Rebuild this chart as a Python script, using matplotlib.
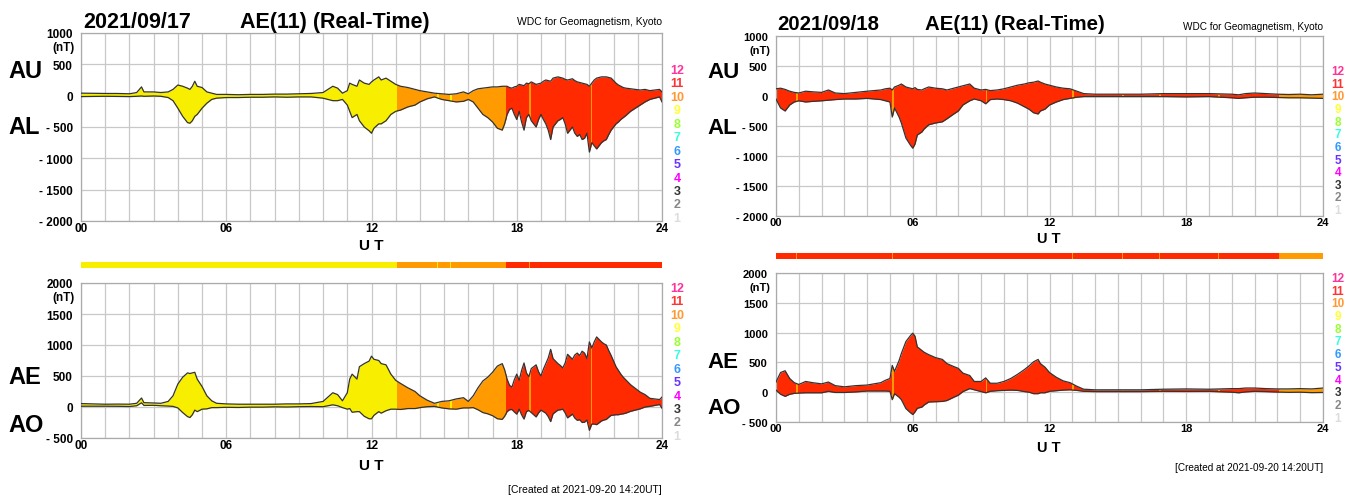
import numpy as np
import matplotlib
matplotlib.use("Agg")
import matplotlib.pyplot as plt
from matplotlib.patches import Rectangle

plt.rcParams['font.family'] = ['Liberation Sans', 'DejaVu Sans']

W, H = 1356, 502

# ---------------- data: 2021/09/17 ----------------
d1_t = [0.0, 0.5, 1.0, 1.5, 2.0, 2.3, 2.5, 2.6, 3.0, 3.3, 3.6, 3.8, 4.0, 4.2, 4.4, 4.5,
        4.6, 4.7, 4.8, 5.0, 5.2, 5.4, 5.6, 6.0, 6.5, 7.0, 7.5, 8.0, 8.5, 9.0, 9.5, 10.0,
        10.2, 10.4, 10.6, 10.8, 11.0, 11.1, 11.2, 11.4, 11.5, 11.7, 11.9, 12.0, 12.1, 12.3,
        12.4, 12.6, 12.8, 13.0, 13.2, 13.5, 13.8, 14.0, 14.3, 14.6, 14.9, 15.2, 15.5, 15.8,
        16.0, 16.2, 16.4, 16.6, 16.8, 17.0, 17.2, 17.4,
        17.5, 17.6, 17.7, 17.8, 17.9, 18.0, 18.1, 18.2, 18.3, 18.4, 18.5, 18.6, 18.7, 18.8,
        18.9, 19.0, 19.1, 19.2, 19.3, 19.4, 19.5, 19.6, 19.7, 19.8, 19.9, 20.0, 20.1, 20.2,
        20.3, 20.4, 20.5, 20.6, 20.7, 20.8, 20.9, 21.0, 21.1, 21.2, 21.3, 21.4, 21.5, 21.6,
        21.7, 21.8, 21.9, 22.0, 22.1, 22.2, 22.3, 22.4, 22.5,
        22.7, 22.9, 23.1, 23.3, 23.5, 23.7, 23.9, 24.0]
d1_au = [40, 38, 35, 35, 30, 50, 140, 60, 60, 50, 60, 100, 170, 150, 120, 100,
         150, 230, 150, 130, 60, 40, 20, 20, 15, 20, 20, 25, 25, 30, 35, 50,
         100, 150, 120, 40, 80, 200, 180, 150, 250, 200, 180, 220, 250, 300,
         250, 280, 230, 180, 150, 130, 100, 80, 60, 40, 30, 20, 30, 60,
         30, 80, 110, 120, 130, 140, 140, 150,
         150, 150, 130, 120, 140, 150, 180, 170, 160, 200, 190, 220, 200, 180,
         190, 200, 230, 250, 240, 230, 280, 290, 300, 290, 280, 260, 250, 260,
         270, 240, 220, 210, 200, 190, 180, 150, 200, 250, 280, 290, 300, 300,
         300, 290, 280, 240, 200, 170, 150, 130, 120,
         110, 100, 90, 100, 80, 90, 100, 60]
d1_al = [-15, -12, -10, -12, -15, -10, -5, -10, -5, -10, -30, -80, -200, -330, -430, -440,
         -400, -330, -300, -200, -120, -60, -40, -30, -30, -25, -25, -20, -25, -20, -20, -40,
         -60, -80, -80, -60, -150, -250, -350, -300, -400, -500, -560, -600, -520, -450,
         -450, -400, -300, -250, -230, -180, -150, -100, -50, -20, -60, -80, -100, -90,
         -60, -100, -200, -300, -350, -420, -520, -550,
         -450, -300, -220, -200, -300, -380, -250, -420, -550, -350, -300, -400, -450, -500,
         -380, -300, -380, -450, -550, -700, -500, -450, -400, -380, -350, -450, -600, -550,
         -500, -600, -650, -620, -700, -680, -600, -900, -750, -800, -850, -800, -750, -720,
         -700, -620, -550, -500, -450, -420, -380, -350, -320,
         -250, -200, -150, -100, -60, -40, -20, -100]
# number of contributing stations: (start h, end h, count)
d1_stations = [(0.0, 13.05, 9), (13.05, 17.55, 10), (17.55, 24.0, 11),
               (14.7, 14.73, 9), (15.25, 15.28, 9), (18.5, 18.53, 10), (21.05, 21.08, 10)]

# ---------------- data: 2021/09/18 ----------------
d2_t = [0.0, 0.2, 0.4, 0.6, 0.8, 1.0, 1.3, 1.6, 2.0, 2.3, 2.6, 3.0, 3.5, 4.0, 4.3, 4.6,
        4.8, 5.0, 5.1, 5.2, 5.4, 5.5, 5.7, 5.9, 6.0, 6.1, 6.2, 6.4, 6.5, 6.7, 7.0, 7.3,
        7.5, 7.8, 8.0, 8.2, 8.5, 8.7, 9.0, 9.2, 9.4, 9.7, 10.0, 10.3, 10.6, 10.9, 11.1,
        11.3, 11.5, 11.6, 11.8, 12.0, 12.3, 12.6, 12.9, 13.2, 13.5, 14.0, 15.0, 16.0, 17.0,
        18.0, 19.0, 19.5, 20.0, 20.3, 20.6, 21.0, 21.5, 22.0, 22.5, 23.0, 23.5, 24.0]
d2_au = [120, 130, 110, 80, 60, 50, 80, 70, 60, 100, 50, 40, 60, 80, 90, 100,
         120, 130, 100, 150, 180, 200, 150, 130, 120, 140, 110, 100, 120, 150, 130, 120,
         100, 130, 150, 170, 200, 130, 100, 110, 90, 100, 120, 150, 180, 200, 220,
         230, 250, 230, 200, 180, 150, 130, 120, 80, 40, 30, 30, 30, 40,
         40, 40, 35, 30, 20, 40, 50, 40, 30, 25, 30, 20, 30]
d2_al = [-50, -200, -250, -150, -100, -80, -100, -90, -80, -70, -60, -50, -50, -40, -50, -60,
         -80, -100, -350, -200, -350, -450, -700, -820, -870, -800, -650, -600, -550, -480, -450, -430,
         -380, -300, -250, -150, -80, -50, -80, -130, -60, -50, -60, -80, -120, -180, -220,
         -280, -300, -250, -220, -150, -100, -60, -40, -20, -10, -10, -10, -10, -10,
         -15, -10, -20, -30, -40, -30, -20, -20, -25, -30, -30, -35, -40]
d2_stations = [(0.0, 22.05, 11), (22.05, 24.0, 10),
               (0.88, 0.91, 10), (5.1, 5.13, 10), (9.2, 9.23, 10), (13.0, 13.03, 10),
               (15.2, 15.23, 10), (16.8, 16.83, 10), (19.4, 19.43, 10)]

station_colors = {12: '#ff3399', 11: '#ff2a00', 10: '#ff9a00', 9: '#f7ee00', 8: '#99ee33',
                  7: '#33eedd', 6: '#3399ff', 5: '#5533ff', 4: '#ff00ff', 3: '#333333',
                  2: '#999999', 1: '#dddddd'}
count_label_colors = {12: '#ff3399', 11: '#ff3333', 10: '#ff9933', 9: '#ffff33', 8: '#99ff33',
                      7: '#33ffdd', 6: '#3399ff', 5: '#6633ff', 4: '#ff00ff', 3: '#333333',
                      2: '#888888', 1: '#dddddd'}


def frac_box(x0, y0, x1, y1):
    return [x0 / W, 1 - y1 / H, (x1 - x0) / W, (y1 - y0) / H]


def ftext(x, y, s, **kw):
    fig.text(x / W, 1 - y / H, s, **kw)


def panel(ax, t, upper, lower, stations, ylim, yticks, yticklabels, fs):
    t = np.asarray(t, float)
    upper = np.asarray(upper, float)
    lower = np.asarray(lower, float)
    for (t0, t1, n) in stations:
        poly = ax.fill_between(t, lower, upper, color=station_colors[n], lw=0, zorder=2)
        clip = Rectangle((t0, ylim[0] - 1000), t1 - t0, ylim[1] - ylim[0] + 2000,
                         transform=ax.transData)
        poly.set_clip_path(clip)
    ax.plot(t, upper, color='#333333', lw=0.9, zorder=3)
    ax.plot(t, lower, color='#333333', lw=0.9, zorder=3)
    ax.set_xlim(0, 24)
    ax.set_ylim(*ylim)
    ax.set_xticks(range(25))
    ax.set_xticklabels(['%02d' % h if h % 6 == 0 else '' for h in range(25)],
                       fontsize=fs, fontweight='bold')
    ax.set_yticks(yticks)
    ax.set_yticklabels(yticklabels, fontsize=fs, fontweight='bold')
    ax.tick_params(length=0, pad=1)
    ax.tick_params(axis='y', pad=6)
    ax.grid(True, color='#c8c8c8', lw=0.9)
    ax.set_axisbelow(True)
    for s in ax.spines.values():
        s.set_color('#aaaaaa')
        s.set_linewidth(0.9)


def station_bar(ax, stations):
    for (t0, t1, n) in stations:
        ax.axvspan(t0, t1, color=station_colors[n], lw=0)
    ax.set_xlim(0, 24)
    ax.set_ylim(0, 1)
    ax.set_xticks([])
    ax.set_yticks([])
    for s in ax.spines.values():
        s.set_visible(False)


def count_legend(x, y0, step, fs):
    for i, n in enumerate(range(12, 0, -1)):
        ftext(x, y0 + i * step, str(n), color=count_label_colors[n], fontsize=fs,
              fontweight='bold', ha='center', va='center')


fig = plt.figure(figsize=(W / 100, H / 100), dpi=100)

top_ticks = [1000, 500, 0, -500, -1000, -1500, -2000]
top_labels = ['1000', '500', '0', '- 500', '- 1000', '- 1500', '- 2000']
bot_ticks = [2000, 1500, 1000, 500, 0, -500]
bot_labels = ['2000', '1500', '1000', '500', '0', '- 500']

d1_ae = np.array(d1_au) - np.array(d1_al)
d1_ao = (np.array(d1_au) + np.array(d1_al)) / 2
d2_ae = np.array(d2_au) - np.array(d2_al)
d2_ao = (np.array(d2_au) + np.array(d2_al)) / 2

# ---- 2021/09/17 ----
ax1 = fig.add_axes(frac_box(81, 34, 662, 222))
panel(ax1, d1_t, d1_au, d1_al, d1_stations, (-2000, 1000), top_ticks, top_labels, 8.5)
bar1 = fig.add_axes(frac_box(81, 263, 662, 269))
station_bar(bar1, d1_stations)
ax2 = fig.add_axes(frac_box(81, 284, 662, 439))
panel(ax2, d1_t, d1_ae, d1_ao, d1_stations, (-500, 2000), bot_ticks, bot_labels, 8.5)

ftext(83, 28, '2021/09/17', fontsize=15.5, fontweight='bold', va='baseline')
ftext(240, 28, 'AE(11) (Real-Time)', fontsize=15.5, fontweight='bold', va='baseline')
ftext(662, 25, 'WDC for Geomagnetism, Kyoto', fontsize=7.5, ha='right', va='baseline')
ftext(75, 48, '(nT)', fontsize=8.5, fontweight='bold', ha='right', va='center')
ftext(75, 298, '(nT)', fontsize=8.5, fontweight='bold', ha='right', va='center')
ftext(8, 72, 'AU', fontsize=17, fontweight='bold', va='center')
ftext(8, 128, 'AL', fontsize=17, fontweight='bold', va='center')
ftext(8, 378, 'AE', fontsize=17, fontweight='bold', va='center')
ftext(8, 425, 'AO', fontsize=17, fontweight='bold', va='center')
ftext(371, 246, 'U T', fontsize=11, fontweight='bold', ha='center', va='center')
ftext(371, 466, 'U T', fontsize=11, fontweight='bold', ha='center', va='center')
count_legend(677, 71, 13.45, 9)
count_legend(677, 289, 13.45, 9)
ftext(662, 490, '[Created at 2021-09-20 14:20UT]', fontsize=7.5, ha='right', va='center')

# ---- 2021/09/18 ----
ax3 = fig.add_axes(frac_box(776, 37, 1323, 217))
panel(ax3, d2_t, d2_au, d2_al, d2_stations, (-2000, 1000), top_ticks, top_labels, 8)
bar2 = fig.add_axes(frac_box(776, 254, 1323, 260))
station_bar(bar2, d2_stations)
ax4 = fig.add_axes(frac_box(776, 274, 1323, 423))
panel(ax4, d2_t, d2_ae, d2_ao, d2_stations, (-500, 2000), bot_ticks, bot_labels, 8)

ftext(777, 30, '2021/09/18', fontsize=14.7, fontweight='bold', va='baseline')
ftext(925, 30, 'AE(11) (Real-Time)', fontsize=14.7, fontweight='bold', va='baseline')
ftext(1323, 30, 'WDC for Geomagnetism, Kyoto', fontsize=7.2, ha='right', va='baseline')
ftext(770, 51, '(nT)', fontsize=8, fontweight='bold', ha='right', va='center')
ftext(770, 288, '(nT)', fontsize=8, fontweight='bold', ha='right', va='center')
ftext(707, 73, 'AU', fontsize=16, fontweight='bold', va='center')
ftext(707, 128, 'AL', fontsize=16, fontweight='bold', va='center')
ftext(707, 363, 'AE', fontsize=16, fontweight='bold', va='center')
ftext(707, 408, 'AO', fontsize=16, fontweight='bold', va='center')
ftext(1049, 239, 'U T', fontsize=10.5, fontweight='bold', ha='center', va='center')
ftext(1049, 448, 'U T', fontsize=10.5, fontweight='bold', ha='center', va='center')
count_legend(1338, 72, 12.65, 8.5)
count_legend(1338, 279, 12.7, 8.5)
ftext(1323, 468, '[Created at 2021-09-20 14:20UT]', fontsize=7.2, ha='right', va='center')

fig.savefig('out.png', dpi=100)
